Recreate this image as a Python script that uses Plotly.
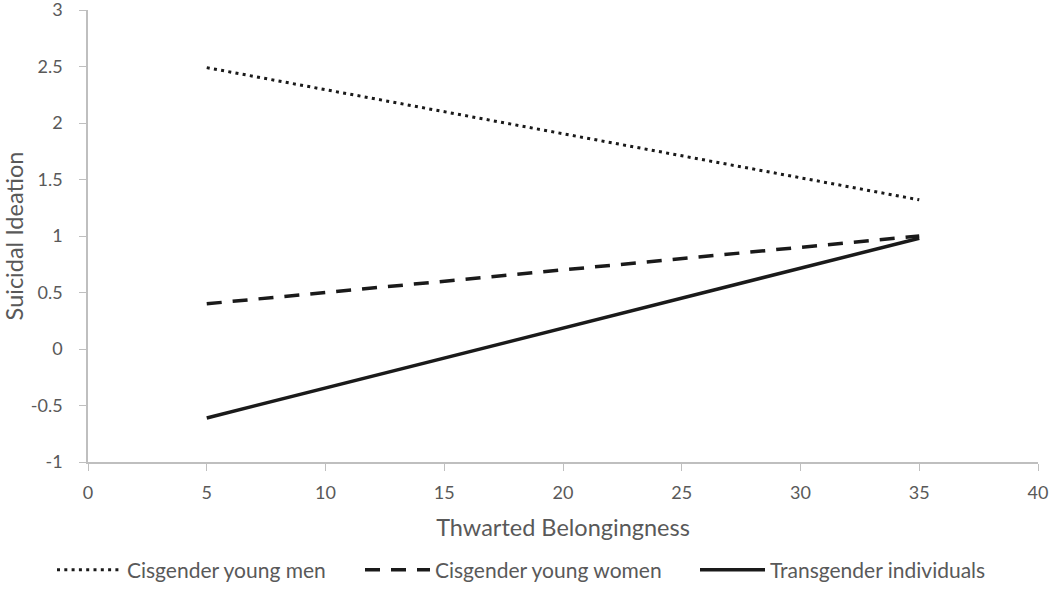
import plotly.graph_objects as go

x_vals = [5, 35]
series_names = ["Cisgender young men", "Cisgender young women", "Transgender individuals"]
men = [2.49, 1.32]
women = [0.40, 1.00]
trans = [-0.61, 0.98]
x_ticks = list(range(0, 41, 5))
y_ticks = [-1, -0.5, 0, 0.5, 1, 1.5, 2, 2.5, 3]
y_ticktext = ["-1", "-0.5", "0", "0.5", "1", "1.5", "2", "2.5", "3"]

styles = [dict(dash="3px,4.3px", width=3), dict(dash="15px,11px", width=3.5), dict(dash="solid", width=3.5)]
legend_ids = ["legend", "legend2", "legend3"]
legend_left_px = [52, 360, 695]

FONT = "Lato, Open Sans, sans-serif"
GRAY = "#595959"
W, H = 1050, 606

fig = go.Figure()
for name, ys, st, lid in zip(series_names, [men, women, trans], styles, legend_ids):
    fig.add_trace(go.Scatter(x=x_vals, y=ys, mode="lines", name=name, legend=lid,
                             line=dict(color="#1a1a1a", width=st["width"], dash=st["dash"])))

tick_font = dict(family=FONT, size=18, color=GRAY)
title_font = dict(family=FONT, size=23.5, color=GRAY)
leg_font = dict(family=FONT, size=21, color=GRAY)

legends = {}
for lid, px in zip(legend_ids, legend_left_px):
    legends[lid] = dict(orientation="h", xref="container", yref="container",
                        x=px / W, xanchor="left", y=1 - 570 / H, yanchor="middle",
                        font=leg_font, itemwidth=65, bgcolor="rgba(0,0,0,0)")

fig.update_layout(
    width=W, height=H,
    margin=dict(l=88, r=12, t=10, b=144, autoexpand=False),
    paper_bgcolor="white", plot_bgcolor="white",
    font=dict(family=FONT, color=GRAY),
    showlegend=True,
    **legends,
    xaxis=dict(range=[0, 40], tickvals=x_ticks, showgrid=False, zeroline=False, automargin=False,
               showline=True, linecolor="#bfbfbf", linewidth=1.5, ticks="outside",
               ticklen=7, tickcolor="#bfbfbf", tickfont=tick_font, ticklabelstandoff=7,
               ticklabeloverflow="allow",
               title=dict(text="Thwarted Belongingness", font=title_font, standoff=17)),
    yaxis=dict(range=[-1, 3], tickvals=y_ticks, ticktext=y_ticktext,
               showgrid=False, zeroline=False, automargin=False,
               showline=True, linecolor="#bfbfbf", linewidth=1.5, ticks="outside",
               ticklen=7, tickcolor="#bfbfbf", tickfont=tick_font, ticklabelstandoff=13,
               ticklabeloverflow="allow",
               title=dict(text="Suicidal Ideation", font=title_font, standoff=8)),
)
fig.write_html("out.html", config={"displayModeBar": False},
               post_script="document.body.style.margin='0';document.body.style.padding='0';")
